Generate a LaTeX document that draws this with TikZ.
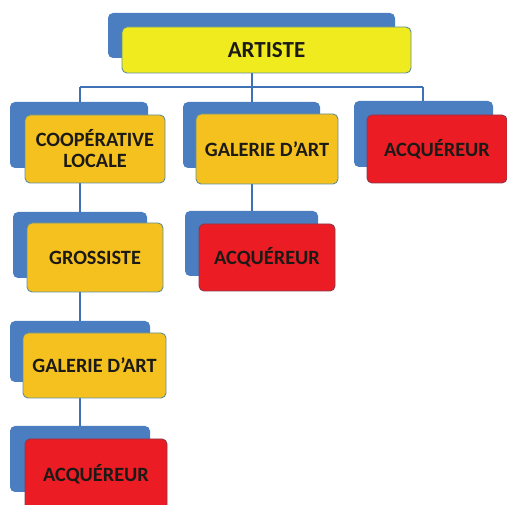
\documentclass[tikz,border=0pt]{standalone}
\usepackage{fontspec}
\setmainfont{Carlito}
\definecolor{backblue}{HTML}{4B7DC1}
\definecolor{linkblue}{HTML}{3E72B4}
\definecolor{artyellow}{HTML}{EFEB1E}
\definecolor{boxorange}{HTML}{F5C11F}
\definecolor{boxred}{HTML}{EC1C24}
\definecolor{yedge}{HTML}{5F8E9A}
\definecolor{redge}{HTML}{8A3A4A}
\definecolor{txt}{HTML}{1C1A16}
\tikzset{
  backbox/.style={draw=none, fill=backblue, rounded corners=5pt, inner sep=0pt},
  frontbox/.style={rounded corners=5pt, inner sep=0pt, align=center, text=txt,
     font=\fontsize{20.3}{21}\selectfont\bfseries, line width=0.9pt},
  yelbox/.style={frontbox, fill=artyellow, draw=yedge, font=\fontsize{23}{24}\selectfont\bfseries},
  orabox/.style={frontbox, fill=boxorange, draw=yedge},
  redbox/.style={frontbox, fill=boxred, draw=redge},
  link/.style={draw=linkblue, line width=1.5pt}
}
\newcommand{\bx}[5]{% name, x1, y1, x2, y2 (pixels, y down)
  \node[backbox, minimum width={(#4-#2)*1pt}, minimum height={(#5-#3)*1pt}] (#1) at ({(#2+#4)/2},{(#3+#5)/2}) {};}
\newcommand{\fx}[7]{% name, style, x1, y1, x2, y2, text
  \node[#2, minimum width={(#5-#3)*1pt}, minimum height={(#6-#4)*1pt}] (#1) at ({(#3+#5)/2},{(#4+#6)/2}) {#7};}
\begin{document}
\begin{tikzpicture}[x=1pt,y=-1pt]
\useasboundingbox (0,0) rectangle (507,505);
\clip (0,0) rectangle (507,505);
\coordinate (hl) at (80,87);
\coordinate (hm) at (252,87);
\coordinate (hr) at (423,87);
% back boxes
\bx{bart}{108}{13}{395}{58}
\bx{bcoop}{10}{102}{148}{168}
\bx{bgal}{183}{102}{320}{168}
\bx{bacqa}{354}{101}{493}{167}
\bx{bacqb}{185}{211}{318}{276}
\bx{bgro}{13}{212}{147}{278}
\bx{bgalc}{10}{321}{150}{382}
\bx{bacqc}{10}{426}{150}{492}
% links
\draw[link] (hm |- 0,73) -- (hm);
\draw[link] (hl) -- (hr);
\draw[link] (hl) -- (hl |- bcoop.north);
\draw[link] (hm) -- (hm |- bgal.north);
\draw[link] (hr) -- (hr |- bacqa.north);
\draw[link] (252,184) -- (bacqb.north -| 252,0);
\draw[link] (80,183) -- (bgro.north -| 80,0);
\draw[link] (80,292) -- (bgalc.north -| 80,0);
\draw[link] (80,398) -- (bacqc.north -| 80,0);
% front boxes
\fx{art}{yelbox}{122}{27}{411}{73}{ARTISTE}
\fx{coop}{orabox}{25}{115}{165}{183}{COOPÉRATIVE\\LOCALE}
\fx{gal}{orabox}{196}{114}{338}{184}{GALERIE D’ART}
\fx{acqa}{redbox}{367}{115}{507}{183}{ACQUÉREUR}
\fx{acqb}{redbox}{199}{224}{335}{291}{ACQUÉREUR}
\fx{gro}{orabox}{27}{223}{163}{292}{GROSSISTE}
\fx{galc}{orabox}{23}{333}{166}{398}{GALERIE D’ART}
\fx{acqc}{redbox}{25}{439}{167}{510}{ACQUÉREUR}
\end{tikzpicture}
\end{document}
